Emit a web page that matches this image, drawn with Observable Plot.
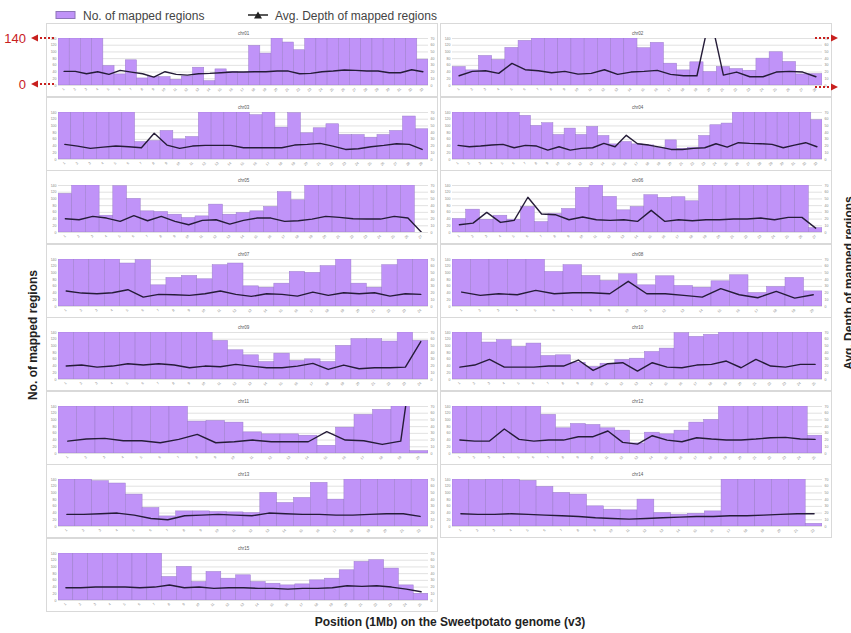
<!DOCTYPE html>
<html><head><meta charset="utf-8">
<script src="https://cdn.jsdelivr.net/npm/d3@7"></script>
<script src="https://cdn.jsdelivr.net/npm/@observablehq/plot@0.6"></script>
<style>
body{margin:0;background:#fff;}
#wrap{position:relative;width:851px;height:633px;overflow:hidden;font-family:"Liberation Sans",Arial,sans-serif;background:#fff;}
.panel{position:absolute;border:1px solid #d9d9d9;box-sizing:border-box;background:#fff;width:392px;height:74px;}
.panel svg{display:block;}
#overlay{position:absolute;left:0;top:0;pointer-events:none;}
</style>
</head><body>
<div id="wrap"></div>
<script>
// ---- data: number of mapped regions per 1Mb window, and average depth ----
const chromosomes = ["chr01","chr02","chr03","chr04","chr05","chr06","chr07","chr08","chr09","chr10","chr11","chr12","chr13","chr14","chr15"];
const chr01_regions = [140,140,140,140,58,33,75,21,25,25,17,27,53,13,48,40,38,118,95,140,128,105,140,140,140,140,140,140,140,140,140,140,77];
const chr01_depth = [21,21,17.5,20.5,16.5,22.5,20,17.5,12.5,20.5,16.5,15.5,17.5,18,19,20,20,20.5,20.5,21.5,21.5,17.5,18,20.5,21.5,23,22.5,21.5,21.5,19,19,23.5,20.5];
const chr02_regions = [55,45,88,76,112,133,140,140,140,140,140,140,140,140,111,127,65,45,69,40,55,49,44,80,99,70,33,34];
const chr02_depth = [14.5,21,22,18,33,23.5,22,19,21,17,18,23.5,16.5,20,21,22.5,16.5,14.5,14.5,105,15.5,20,13,13,20,21,20,13];
const chr03_regions = [140,140,140,140,140,140,52,55,85,60,67,140,140,140,140,132,140,95,138,78,93,105,73,73,65,73,85,128,90];
const chr03_depth = [22.5,20,16.5,18.5,20,19,17.5,39,21.5,16.5,20,21,21,21,17.5,17.5,17.5,17.5,21.5,22.5,24,20,15,16,19,21,23.5,22.5,15];
const chr04_regions = [140,140,140,140,140,140,130,100,108,73,92,73,97,70,45,52,45,42,35,57,32,35,70,102,107,140,140,140,140,140,140,140,117];
const chr04_depth = [21,19,20,21.5,22.5,17.5,21,20,14,19,14,16.5,17.5,24,19,36,23.5,21.5,18.5,15,15,16.5,17.5,23.5,18.5,25,24,23.5,22.5,17.5,21.5,25,19];
const chr05_regions = [115,140,140,50,138,100,63,61,53,43,48,83,53,58,63,76,120,96,140,140,140,140,140,140,140,140,0];
const chr05_depth = [20.5,19,24,21.5,16.5,25,17.5,24,16.5,11.5,18,19,12.5,18,21.5,21.5,16.5,17.5,20,24,22.5,20.5,20,20,24,21.5,0];
const chr06_regions = [40,68,38,50,38,76,31,55,70,133,140,106,66,76,111,103,105,93,140,140,140,140,140,140,140,140,13];
const chr06_depth = [11.5,14,30,15,18,52.5,27.5,26.5,19,23,19,18,19,16.5,33,16.5,19,17.5,19,19,20,20,21.5,19,22.5,22.5,6.5];
const chr07_regions = [140,140,140,140,128,138,63,85,91,81,123,128,60,56,68,103,100,120,140,68,56,123,140,140];
const chr07_depth = [23,20,19,20.5,25,14,18,17.5,16.5,19,23,18,15,19,18,15.5,21.5,16.5,20.5,19,20.5,15.5,19,18];
const chr08_regions = [140,140,140,140,140,103,123,91,76,96,63,90,61,56,75,93,40,58,85,45];
const chr08_depth = [21.5,16.5,19,17.5,24,19,20.5,20.5,19,37.5,19,19,16.5,14,26.5,17.5,13,22.5,12.5,17.5];
const chr09_regions = [140,140,140,140,140,140,140,140,140,140,115,87,72,52,77,55,60,52,100,120,120,113,140,115];
const chr09_depth = [20,21.5,18.5,20,23.5,21.5,23.5,21.5,17.5,20,19,22.5,20,17.5,17.5,20,24,15,21.5,16,17.5,17.5,18.5,56.5];
const chr10_regions = [140,140,110,117,97,107,70,72,50,37,47,58,62,82,92,138,127,133,140,140,140,140,140,140,140];
const chr10_depth = [18.5,21.5,30,18.5,18.5,18.5,20,20,29,13.5,23.5,25,12.5,25,18.5,17.5,21.5,22.5,27.5,17.5,30,20,18.5,22.5,22.5];
const chr11_regions = [140,140,140,140,140,140,140,95,97,92,63,57,57,53,23,77,115,130,140,7];
const chr11_depth = [18.5,21.5,22.5,19,19,16,21,28.5,16,17.5,20,17.5,17.5,17.5,32.5,20,19,13.5,18.5,215];
const chr12_regions = [140,140,140,140,140,140,115,75,88,85,75,68,30,62,57,68,92,100,140,140,140,140,140,140,53];
const chr12_depth = [20,18.5,18.5,36.5,21,18.5,20,20,25,25,33.5,16.5,14,26.5,20,17.5,23.5,21.5,20,20,21.5,23.5,24,21.5,21];
const chr13_regions = [140,140,135,128,95,55,30,45,45,43,42,40,100,70,85,130,80,140,140,140,140,140];
const chr13_depth = [18,18,19,20,17,12,10,16,17,18,17,16,20,19,18,18,17,17,18,19,19,15];
const chr14_regions = [140,138,140,140,136,118,100,95,60,50,48,80,40,35,38,45,140,140,140,140,140,8];
const chr14_depth = [19,18,18,19,18,17,16,15,13,12,11,12,13,14,15,15,16,16,17,18,19,19];
const chr15_regions = [140,140,140,140,140,140,140,70,100,55,85,65,75,55,50,45,48,60,65,90,115,120,95,45,20];
const chr15_depth = [19,19,20,20,20,19,20,23,19,20,18,19,19,18,18,17,18,18,19,22,21,22,20,17,13];

const leftTicks = [0,20,40,60,80,100,120,140];   // No. of mapped regions
const rightMax = 70;                             // Avg. depth axis: 0..70
const legendLabels = ["No. of mapped regions", "Avg. Depth of mapped regions"];
const xTitle = "Position (1Mb) on the Sweetpotato genome (v3)";

const regionSeries = [chr01_regions,chr02_regions,chr03_regions,chr04_regions,chr05_regions,chr06_regions,chr07_regions,chr08_regions,chr09_regions,chr10_regions,chr11_regions,chr12_regions,chr13_regions,chr14_regions,chr15_regions];
const depthSeries = [chr01_depth,chr02_depth,chr03_depth,chr04_depth,chr05_depth,chr06_depth,chr07_depth,chr08_depth,chr09_depth,chr10_depth,chr11_depth,chr12_depth,chr13_depth,chr14_depth,chr15_depth];

const BAR = "#C093F8", BAR_EDGE = "#9B7DCB", LINE = "#251C38";
const wrap = document.getElementById("wrap");
const ratio = 140 / rightMax;

chromosomes.forEach((name, k) => {
  const col = k % 2, row = Math.floor(k / 2);
  const data = regionSeries[k].map((v, i) => ({pos: i + 1, regions: v, depth: depthSeries[k][i]}));
  const chart = Plot.plot({
    width: 390, height: 72,
    marginLeft: 11, marginRight: 9, marginTop: 14, marginBottom: 11,
    style: {fontFamily: "Liberation Sans, Arial, sans-serif", fontSize: "4px", color: "#888", background: "white", overflow: "visible"},
    x: {type: "band", domain: data.map(d => d.pos), padding: 0, round: false, label: null},
    y: {domain: [0, 140], label: null},
    marks: [
      Plot.gridY(leftTicks, {stroke: "#cccccc", strokeOpacity: 1, strokeWidth: 0.6}),
      Plot.barY(data, {x: "pos", y: "regions", fill: BAR, stroke: BAR_EDGE, strokeWidth: 0.5, clip: true}),
      Plot.lineY(data, {x: "pos", y: d => d.depth * ratio, stroke: LINE, strokeWidth: 1.4, clip: true}),
      Plot.axisY(leftTicks, {anchor: "left", tickSize: 0, tickPadding: 2, fontSize: 3.5, label: null}),
      Plot.axisY(leftTicks, {anchor: "right", tickSize: 0, tickPadding: 2, fontSize: 3.5, label: null, tickFormat: d => d / ratio}),
      Plot.axisX({tickRotate: -45, tickSize: 0, tickPadding: 3, fontSize: 3.5, label: null}),
      Plot.text([name], {frameAnchor: "top", dy: -7, fontSize: 4.5, fill: "#555"})
    ]
  });
  const div = document.createElement("div");
  div.className = "panel";
  div.style.left = (col === 0 ? 46 : 440) + "px";
  div.style.top = (23 + 73.5 * row) + "px";
  div.appendChild(chart);
  wrap.appendChild(div);
});

// ---- overlay: legend, axis titles, red markers ----
const ov = d3.select(wrap).append("svg").attr("id", "overlay").attr("width", 851).attr("height", 633);
ov.append("rect").attr("x", 56).attr("y", 11.5).attr("width", 19).attr("height", 7).attr("fill", BAR).attr("stroke", "#8d75b8");
ov.append("text").attr("x", 83).attr("y", 19.5).attr("font-size", 12).attr("fill", "#444").text(legendLabels[0]);
ov.append("line").attr("x1", 248).attr("x2", 268).attr("y1", 15).attr("y2", 15).attr("stroke", "#222").attr("stroke-width", 1.5);
ov.append("path").attr("d", "M254,18.5L262,18.5L258,11.5Z").attr("fill", "#222");
ov.append("text").attr("x", 275).attr("y", 19.5).attr("font-size", 12).attr("fill", "#444").text(legendLabels[1]);

const red = "#C8201E";
[[38, "140"], [84, "0"]].forEach(([y, t]) => {
  ov.append("text").attr("x", 26).attr("y", y + 4.5).attr("text-anchor", "end").attr("font-size", 13).attr("fill", red).text(t);
  ov.append("path").attr("d", `M31,${y}L38,${y - 3.5}L38,${y + 3.5}Z`).attr("fill", red);
  ov.append("line").attr("x1", 40).attr("x2", 56).attr("y1", y).attr("y2", y).attr("stroke", red).attr("stroke-width", 2).attr("stroke-dasharray", "2,2");
});
[38, 87].forEach(y => {
  ov.append("line").attr("x1", 815).attr("x2", 830).attr("y1", y).attr("y2", y).attr("stroke", red).attr("stroke-width", 2).attr("stroke-dasharray", "2,2");
  ov.append("path").attr("d", `M838,${y}L831,${y - 3.5}L831,${y + 3.5}Z`).attr("fill", red);
});

ov.append("text").attr("transform", "translate(37,335) rotate(-90)").attr("text-anchor", "middle")
  .attr("font-size", 12).attr("font-weight", "bold").attr("fill", "#222").text(legendLabels[0]);
ov.append("text").attr("transform", "translate(853,283) rotate(-90)").attr("text-anchor", "middle")
  .attr("font-size", 12).attr("font-weight", "bold").attr("fill", "#222").text(legendLabels[1]);
ov.append("text").attr("x", 450).attr("y", 626).attr("text-anchor", "middle")
  .attr("font-size", 12).attr("font-weight", "bold").attr("fill", "#222").text(xTitle);
</script>
</body></html>
